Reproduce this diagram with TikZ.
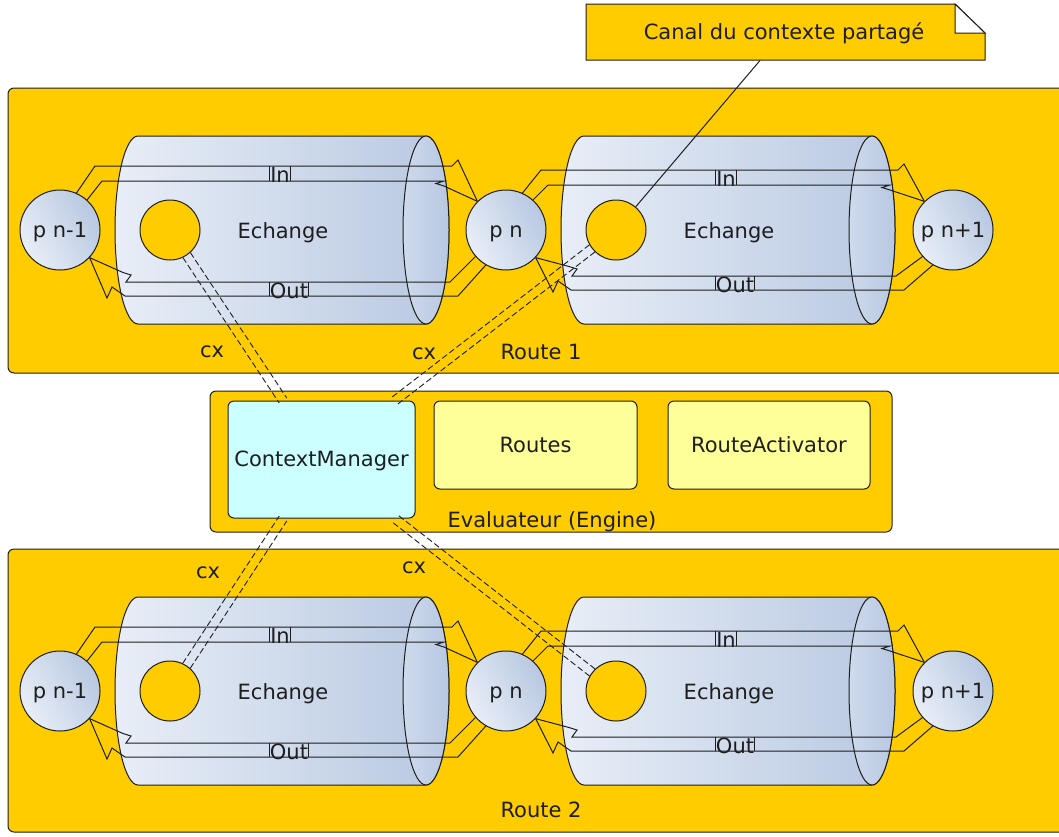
\documentclass[tikz,border=0pt]{standalone}
\usepackage{fontspec}
\setmainfont{DejaVu Sans}
\usetikzlibrary{calc}

\definecolor{gold}{RGB}{255,204,0}
\definecolor{cmfill}{RGB}{204,255,255}
\definecolor{rtfill}{RGB}{255,255,153}
\definecolor{ink}{RGB}{30,30,30}
\definecolor{blueL}{RGB}{232,238,247}
\definecolor{blueM}{RGB}{206,218,237}
\definecolor{blueD}{RGB}{184,200,225}

\tikzset{
  every node/.style={text height=15pt, text depth=1pt},
  route/.style={draw=ink, fill=gold, rounded corners=6pt},
  box/.style={draw=ink, rounded corners=6pt, inner sep=0pt},
  pnode/.style={circle, draw=ink, minimum size=80pt, inner sep=0pt,
                left color=blueL, right color=blueD, shading angle=120},
  yel/.style={circle, draw=ink, fill=gold, minimum size=60pt, inner sep=0pt},
  flow/.style={draw=ink, line join=miter},
  cxline/.style={draw=ink, line width=0.9pt, dash pattern=on 6pt off 3pt},
  lab/.style={inner sep=0pt, anchor=base, text height=, text depth=},
}

% horizontal cylinder (exchange channel)
\newcommand\drawcyl{%
  \path[draw=ink, left color=blueL, right color=blueD]
    (138,136) -- (426,136)
    arc[start angle=90, end angle=-90, x radius=23pt, y radius=94pt]
    -- (138,324)
    arc[start angle=270, end angle=90, x radius=23pt, y radius=94pt] -- cycle;
  \path[draw=ink, left color=blueM, right color=blueD]
    (426,230) ellipse[x radius=23pt, y radius=94pt];
}

% In / Out block arrows between two process circles
% #1 left circle, #2 right circle, #3 label suffix, #4 In offset, #5 Out offset
\newcommand\flowpair[5]{%
  \begin{scope}[shift={(0,#4)}]
    \draw[flow] (#1.66) -- (95,166) -- (452,166) -- (458,160) -- (#2.135);
    \draw[flow] (#1.48) -- (102,181) -- (444,181) -- (436,183.5) -- (444,186) -- (#2.135);
    \node[lab] (in#3) at (280,182.5) {In};
    \draw[flow] (in#3.west |- 0,166) -- (in#3.west |- 0,181)
                (in#3.east |- 0,166) -- (in#3.east |- 0,181);
  \end{scope}
  \begin{scope}[shift={(0,#5)}]
    \draw[flow] (#2.221) -- (450,282) -- (126,282) -- (131,275) -- (123,272.5) -- (#1.-43);
    \draw[flow] (#2.240) -- (458,296) -- (125,296) -- (112,287) -- (107,298) -- (#1.-43);
    \node[lab] (out#3) at (289,298) {Out};
    \draw[flow] (out#3.west |- 0,282) -- (out#3.west |- 0,296)
                (out#3.east |- 0,282) -- (out#3.east |- 0,296);
  \end{scope}
}

% one route: two exchanges between three processes
\newcommand\routerow[1]{%
  \drawcyl
  \begin{scope}[shift={(446,0)}]\drawcyl\end{scope}
  \node[pnode] (pA#1) at (60,230) {p n-1};
  \node[pnode] (pB#1) at (506,230) {p n};
  \node[pnode] (pC#1) at (953,230) {p n+1};
  \node[yel] (yA#1) at (170,230) {};
  \node[yel] (yB#1) at (616,230) {};
  \node (eA#1) at (283,231) {Echange};
  \node (eB#1) at (729,231) {Echange};
  \flowpair{pA#1}{pB#1}{a#1}{0}{0}
  \begin{scope}[shift={(446,0)}]\flowpair{pB#1}{pC#1}{b#1}{4}{-6}\end{scope}
}

% doubled dashed context link from a channel circle to the manager
\newcommand\cxpair[2]{%
  \coordinate (cxs) at ($(#1)!30pt!(#2)$);
  \draw[cxline] ($(cxs)!4.5pt!90:(#2)$) -- ($(#2)!4.5pt!-90:(cxs)$);
  \draw[cxline] ($(cxs)!4.5pt!-90:(#2)$) -- ($(#2)!4.5pt!90:(cxs)$);
}

\begin{document}
\begin{tikzpicture}[x=1pt, y=-1pt, line width=1pt,
                    font=\fontsize{21}{25}\selectfont, text=ink]
\path[use as bounding box] (0,0) rectangle (1059,836);
\clip (0,0) rectangle (1059,836);
\fill[white] (0,0) rectangle (1059,836);

% note
\draw[draw=ink, fill=gold] (586,4) -- (955,4) -- (985,33) -- (985,60) -- (586,60) -- cycle;
\draw[draw=ink, fill=white] (955,4) -- (955,33) -- (985,33) -- cycle;
\node[minimum width=399pt, minimum height=56pt, inner sep=0pt] (note) at (784,32)
  {Canal du contexte partagé};

% route containers
\draw[route] (8,88) rectangle (1075,373);
\draw[route] (8,549) rectangle (1075,832);

% engine
\draw[route] (210,391) rectangle (892,532);
\node[box, fill=cmfill, minimum width=187pt, minimum height=117pt] (cm) at (321.5,459.5) {ContextManager};
\node[box, fill=rtfill, minimum width=203pt, minimum height=88pt] (routes) at (535.5,445) {Routes};
\node[box, fill=rtfill, minimum width=202pt, minimum height=88pt] (ract) at (769,445) {RouteActivator};
\node (eng) at (552,520) {Evaluateur (Engine)};

% routes
\routerow{1}
\begin{scope}[shift={(0,461)}]\routerow{2}\end{scope}
\node (r1) at (541,352) {Route 1};
\node (r2) at (541,810) {Route 2};

% note link
\draw[flow] ([xshift=-24pt]note.south) -- (yB1);

% context links
\coordinate (cmT1) at ([xshift=-38.5pt]cm.north);
\coordinate (cmT2) at ([xshift=73.5pt]cm.north);
\coordinate (cmB1) at ([xshift=-38.5pt]cm.south);
\coordinate (cmB2) at ([xshift=73.5pt]cm.south);
\cxpair{yA1}{cmT1}
\cxpair{yB1}{cmT2}
\cxpair{yA2}{cmB1}
\cxpair{yB2}{cmB2}
\node (cx1) at (212,350) {cx};
\node (cx2) at (424,352) {cx};
\node (cx3) at (208,571) {cx};
\node (cx4) at (414,566) {cx};
\end{tikzpicture}
\end{document}
